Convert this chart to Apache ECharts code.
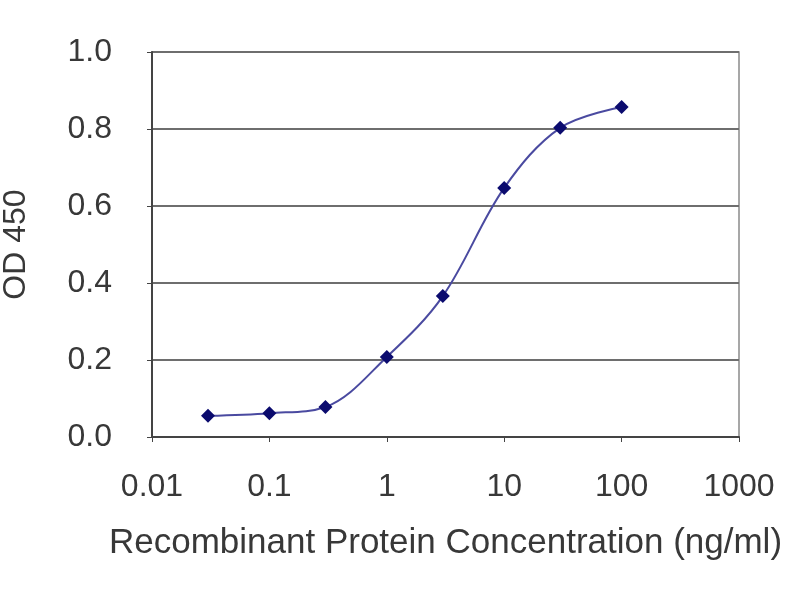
<!DOCTYPE html>
<html>
<head>
<meta charset="utf-8">
<script src="https://cdn.jsdelivr.net/npm/echarts@6/dist/echarts.min.js"></script>
<style>
html, body { margin: 0; padding: 0; background: #fff; }
#chart { width: 800px; height: 600px; }
</style>
</head>
<body>
<div id="chart"></div>
<script>
// concentrations (ng/ml) and OD 450 readings
var concentrations = [0.03, 0.1, 0.3, 1, 3, 10, 30, 100];
var odValues = [0.055, 0.062, 0.078, 0.208, 0.366, 0.647, 0.803, 0.857];
var yTicks = [0, 0.2, 0.4, 0.6, 0.8, 1.0];

var myChart = echarts.init(document.getElementById('chart'));

var points = concentrations.map(function (c, i) {
    return [c, odValues[i]];
});

var labelFont = {
    color: '#383838',
    fontFamily: 'Liberation Sans, Arial, sans-serif',
    fontSize: 32
};

var option = {
    backgroundColor: '#fff',
    animation: false,
    grid: {
        left: 152,
        right: 61,
        top: 52,
        bottom: 163,
        outerBoundsMode: 'none',
        show: true,
        borderColor: '#8a8a8a',
        borderWidth: 1.5
    },
    xAxis: {
        type: 'log',
        logBase: 10,
        min: 0.01,
        max: 1000,
        name: 'Recombinant Protein Concentration (ng/ml)',
        nameLocation: 'middle',
        nameGap: 89,
        nameTextStyle: {
            color: labelFont.color,
            fontFamily: labelFont.fontFamily,
            fontSize: 35
        },
        axisLine: { lineStyle: { color: '#444', width: 2 } },
        axisTick: { show: true, length: 5, lineStyle: { color: '#444' } },
        minorTick: { show: false },
        splitLine: { show: false },
        axisLabel: {
            margin: 34,
            color: labelFont.color,
            fontFamily: labelFont.fontFamily,
            fontSize: labelFont.fontSize,
            formatter: function (v) {
                return String(Number(v.toPrecision(6)));
            }
        }
    },
    yAxis: {
        type: 'value',
        min: yTicks[0],
        max: yTicks[yTicks.length - 1],
        interval: 0.2,
        name: 'OD 450',
        nameLocation: 'middle',
        nameGap: 120,
        nameTextStyle: labelFont,
        axisLine: { show: true, lineStyle: { color: '#444', width: 2 } },
        axisTick: { show: true, length: 5, lineStyle: { color: '#444' } },
        splitLine: { show: true, lineStyle: { color: '#6e6e6e', width: 2 } },
        axisLabel: {
            margin: 40,
            color: labelFont.color,
            fontFamily: labelFont.fontFamily,
            fontSize: labelFont.fontSize,
            formatter: function (v) { return v.toFixed(1); }
        }
    },
    series: [{
        type: 'line',
        data: points,
        smooth: 0.35,
        symbol: 'diamond',
        symbolSize: 14,
        lineStyle: { color: '#4a4aa0', width: 2 },
        itemStyle: { color: '#0b0b6e' }
    }]
};

myChart.setOption(option);
</script>
</body>
</html>
